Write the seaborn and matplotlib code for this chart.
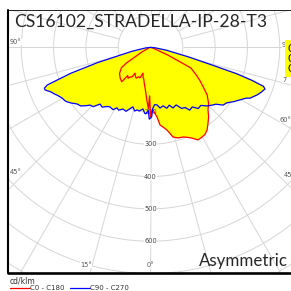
import numpy as np
import pandas as pd
import matplotlib
matplotlib.use("Agg")
import matplotlib.pyplot as plt
import seaborn as sns
from matplotlib.patches import Rectangle
from matplotlib.lines import Line2D

# photometric data, cd/klm. gamma in degrees, negative = left half of the plane
c90_gamma = [-90, -84, -78, -74, -72, -70, -69, -68, -66, -64, -63, -61, -60, -58, -57, -55,
             -52.4, -50, -48, -46.4, -44, -41.7, -39, -36, -34.2, -31, -29, -27, -24, -21,
             -18, -16.4, -14, -12, -10, -7, -5, -4, -2, -1, 0,
             1, 2, 4, 6.4, 9, 12, 15, 18, 20.4, 24, 27, 30, 32, 35, 38, 41, 44, 47, 49,
             51.5, 54, 57, 59.6, 62, 63, 65.9, 68, 70, 71, 72, 73, 74, 76, 80, 85, 90]
c90_value = [0, 15, 60, 170, 260, 340, 352, 352, 338, 330, 325, 318, 315, 312, 309, 300,
             287, 282, 270, 259, 255, 235, 238, 226, 223, 225, 214, 218, 209, 212,
             198, 192, 203, 198, 200, 192, 205, 206, 195, 222, 219,
             215, 190, 178, 179, 190, 185, 195, 188, 200, 195, 212, 215, 229, 225, 240, 238, 252, 262, 268,
             287, 292, 308, 321, 335, 346, 361, 370, 377, 370, 330, 280, 200, 120, 50, 15, 0]

c0_gamma = [-90, -75, -62, -57, -55, -50, -45, -40, -39, -36, -34, -32, -31, -28, -25, -22,
            -19, -16.3, -14, -12, -10, -8, -6, -4, -2, -1, 0,
            1, 2.3, 5.3, 7, 9, 11.3, 14.1, 16.9, 19.9, 22, 24.6, 27.2, 29.9, 32, 34.4,
            37.3, 40, 42.6, 46, 50, 53, 56, 59, 63, 66, 75, 90]
c0_value = [0, 5, 30, 90, 110, 125, 133, 139, 112, 118, 110, 108, 93, 100, 105, 98,
            100, 83, 95, 100, 112, 124, 140, 163, 190, 150, 215,
            200, 194, 216, 242, 250, 261, 286, 293, 295, 300, 309, 322, 320, 318, 310,
            294, 280, 263, 250, 229, 205, 185, 165, 140, 60, 8, 0]

ring_values = [200, 300, 400, 500, 600]
angle_labels = ["90°", "45°", "15°", "0°", "9", "7", "60°", "45°"]
title = "CS16102_STRADELLA-IP-28-T3"
legend_labels = ["C0 - C180", "C90 - C270"]

sns.set_style("white")
plt.rcParams["font.family"] = ["DejaVu Sans"]

W = 291
fig = plt.figure(figsize=(W / 100, W / 100), dpi=100)

# polar axes centre and scale in pixels
cx, cy = 150.5, 47.4
scale = 0.323
rmax = 1000
rad = rmax * scale
ax = fig.add_axes([(cx - rad) / W, (W - cy - rad) / W, 2 * rad / W, 2 * rad / W],
                  projection="polar")
ax.set_theta_zero_location("S")
ax.set_ylim(0, rmax)
ax.set_yticks(np.arange(100, rmax + 1, 100))
ax.set_yticklabels([])
ax.set_xticks([])
ax.yaxis.grid(True, color="#d6d6d6", lw=0.7)
ax.spines["polar"].set_visible(False)
ax.vlines(np.deg2rad(np.arange(0, 360, 15)), 100, rmax, color="#d6d6d6", lw=0.7, zorder=0.5)

df90 = pd.DataFrame({"theta": np.deg2rad(c90_gamma), "r": c90_value})
df0 = pd.DataFrame({"theta": np.deg2rad(c0_gamma), "r": c0_value})

ax.fill(df90["theta"], df90["r"], color="#ffff00", lw=0, zorder=1)
ax.fill(df0["theta"], df0["r"], color="#ffff00", lw=0, zorder=1)

for v in ring_values:
    kw = {} if v == 200 else dict(bbox=dict(fc="white", ec="none", pad=0.3))
    ax.text(0, v, str(v), fontsize=4.8, color="#444444", ha="center", va="center",
            zorder=2, **kw)

sns.lineplot(data=df0, x="theta", y="r", sort=False, estimator=None, color="#ff0000",
             lw=0.9, ax=ax, zorder=3)
sns.lineplot(data=df90, x="theta", y="r", sort=False, estimator=None, color="#0000ff",
             lw=0.9, ax=ax, zorder=3)
ax.set_xlabel("")
ax.set_ylabel("")
ax.set_xticks([])
ax.set_ylim(0, rmax)

# white cover outside the frame
def fx(px):
    return px / W

def fy(py):
    return 1 - py / W

for x0, y0, w, h in [(0, 0, W, 10), (0, 273, W, 18), (0, 0, 8, W)]:
    fig.add_artist(Rectangle((fx(x0), fy(y0 + h)), w / W, h / W, transform=fig.transFigure,
                             fc="white", ec="none", zorder=1.5))

# frame
fig.add_artist(Line2D([fx(8.3), fx(8.3)], [fy(10), fy(273)], color="black", lw=1.5, zorder=2))
fig.add_artist(Line2D([fx(8), fx(W)], [fy(10.3), fy(10.3)], color="black", lw=0.6, zorder=2))
fig.add_artist(Line2D([fx(7.5), fx(W)], [fy(272.8), fy(272.8)], color="black", lw=1.9, zorder=2))

# angle labels
label_pos = [(16, 42, "center"), (16, 172, "center"), (86, 265, "center"), (150, 265, "center"),
             (282, 45, "left"), (282, 80, "left"), (280, 120, "left"), (284, 175, "left")]
for txt, (px, py, ha) in zip(angle_labels, label_pos):
    fig.text(fx(px), fy(py), txt, fontsize=4.8, color="#555555", ha=ha, va="center",
             zorder=3, bbox=dict(fc="white", ec="none", pad=0.3))

# yellow box at right edge
fig.add_artist(Rectangle((fx(285), fy(77)), 8 / W, 37 / W, transform=fig.transFigure,
                         fc="#ffff00", ec="none", zorder=4))
fig.text(fx(288), fy(59), "C\nC\nC", fontsize=7, color="black", va="center", ha="left",
         linespacing=1.0, zorder=5)

fig.text(fx(14), fy(27), title, fontsize=12.6, family="Lato", ha="left", va="baseline", zorder=3)
fig.text(fx(199), fy(266), "Asymmetric", fontsize=12.2, family="Lato", ha="left", va="baseline",
         zorder=3)

fig.text(fx(10), fy(281), "cd/klm", fontsize=5.5, color="#333333", ha="left", va="center")
handles = [Line2D([], [], color="#ff0000", lw=0.9), Line2D([], [], color="#0000ff", lw=0.9)]
leg = fig.legend(handles, legend_labels, loc="center left", bbox_to_anchor=(fx(10), fy(288)),
                 ncol=2, frameon=False, fontsize=5, handlelength=2.9, handletextpad=0.0,
                 columnspacing=0.8, borderpad=0, borderaxespad=0)
for t in leg.get_texts():
    t.set_color("#333333")

fig.savefig("out.png", dpi=100)
